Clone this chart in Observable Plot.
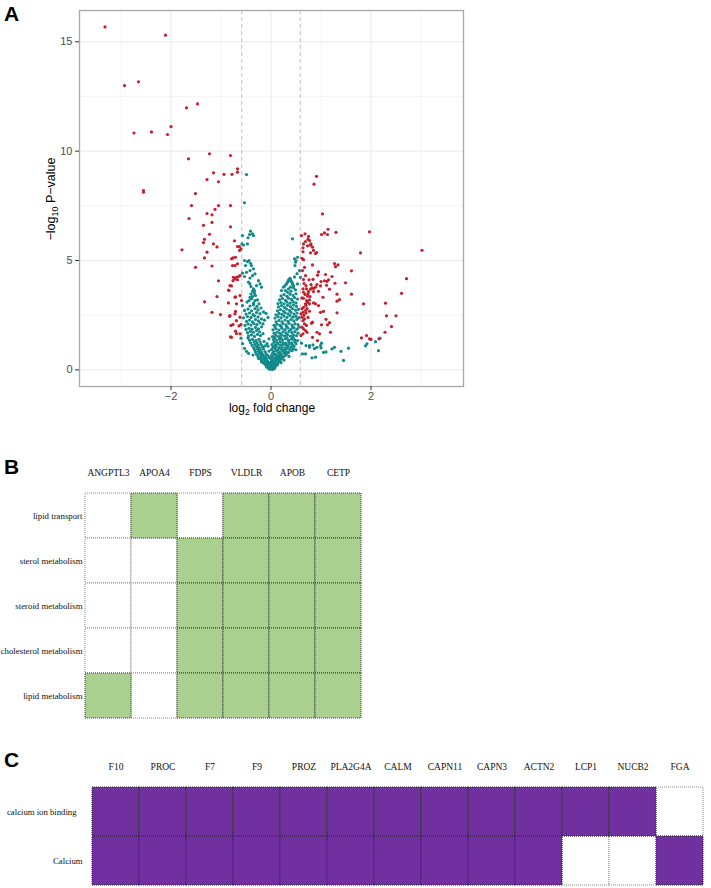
<!DOCTYPE html>
<html>
<head>
<meta charset="utf-8">
<script src="https://cdn.jsdelivr.net/npm/d3@7"></script>
<script src="https://cdn.jsdelivr.net/npm/@observablehq/plot@0.6"></script>
<style>
  html, body { margin: 0; padding: 0; background: #fff; }
  #wrap { position: relative; width: 711px; height: 888px; background: #fff; overflow: hidden; }
  .panel { position: absolute; left: 0; }
  .tag { position: absolute; left: 4px; font: bold 21px "Liberation Sans", Arial, sans-serif; color: #000; line-height: 1; }
  .atitle { position: absolute; font-family: "Liberation Sans", Arial, sans-serif; color: #000; white-space: nowrap; line-height: 14px; }
  .sb { font-size: 0.72em; position: relative; top: 0.35em; }
</style>
</head>
<body>
<div id="wrap">
  <div class="panel" id="pA" style="top:0"></div>
  <div class="panel" id="pB" style="top:440px"></div>
  <div class="panel" id="pC" style="top:740px"></div>
  <div class="tag" style="top:3px">A</div>
  <div class="tag" style="top:456px">B</div>
  <div class="tag" style="top:749px">C</div>
  <div class="atitle" style="left:51px; top:199px; font-size:12.5px; transform:translate(-50%,-50%) rotate(-90deg);">−log<span class="sb">10</span> P−value</div>
  <div class="atitle" style="left:272px; top:401px; font-size:12px; transform:translateX(-50%);">log<span class="sb">2</span> fold change</div>
</div>
<script>
// ---------------- Panel A data (log2 fold change, -log10 P-value) ----------------
const fcCutoff = [-0.585, 0.585];
const xMajorTicks = [-2, 0, 2];
const xMinorTicks = [-3, -1, 1, 3];
const yMajorTicks = [0, 5, 10, 15];
const yMinorTicks = [2.5, 7.5, 12.5];

const downRegulated = [
  [-3.32,15.68],[-2.11,15.30],[-2.93,13.0],[-2.65,13.17],[-1.69,11.98],[-1.47,12.16],[-2.0,11.12],[-2.74,10.83],
  [-2.39,10.88],[-2.07,10.76],[-1.65,9.65],[-1.23,9.88],[-0.81,9.80],[-1.15,9.01],[-1.28,8.70],[-1.05,8.60],
  [-0.94,8.94],[-0.78,8.94],[-0.67,9.19],[-0.67,9.04],[-2.55,8.20],[-2.55,8.12],[-1.51,8.06],
  [-1.59,7.51],[-1.05,7.51],[-0.81,7.51],[-1.12,7.34],[-1.28,7.15],[-1.18,7.09],[-1.64,6.92],[-1.18,6.74],
  [-1.35,6.61],[-0.81,6.54],[-1.23,6.20],[-1.33,5.97],[-1.35,5.82],[-0.73,5.90],[-1.15,5.76],[-1.08,5.62],
  [-0.67,5.64],[-0.63,5.64],[-0.60,5.53],[-1.78,5.49],[-1.28,5.38],[-0.63,5.46],[-1.33,5.12],[-0.71,5.15],
  [-0.79,5.08],[-0.76,5.12],[-0.77,4.77],[-0.72,4.77],[-0.67,4.85],[-1.51,4.69],[-1.18,4.75],[-0.69,4.23],
  [-0.67,4.12],[-1.05,4.07],[-0.76,4.08],[-0.75,4.23],[-0.72,4.16],[-0.65,4.27],[-0.62,4.31],[-0.79,3.84],
  [-0.82,3.85],[-0.84,3.63],[-0.85,3.65],[-1.08,3.35],[-0.71,3.34],[-0.72,3.32],[-0.62,3.40],[-0.59,3.17],
  [-1.33,3.11],[-0.85,3.06],[-0.69,3.02],[-1.18,2.63],[-1.01,2.53],[-0.83,2.45],[-0.71,2.67],[-0.82,2.48],
  [-0.72,2.56],[-0.62,2.41],[-0.69,2.25],[-0.60,2.07],[-0.80,2.03],[-0.76,2.07],[-0.64,2.01],[-0.69,1.66],
  [-0.81,1.51],[-0.71,1.77],[-0.79,1.49],[-0.62,1.65]
];

const upRegulated = [
  [0.91,8.85],[0.86,8.49],[1.03,7.13],[1.14,6.43],[1.07,6.26],[1.01,6.19],[1.13,6.19],[1.30,6.29],[1.97,6.31],
  [3.02,5.47],[0.74,5.97],[0.69,5.87],[0.65,5.76],[0.73,5.67],[0.79,5.70],[0.83,5.61],[0.64,5.58],[0.64,5.40],
  [0.79,5.35],[0.89,5.32],[0.91,5.36],[1.79,5.35],[0.62,5.10],[0.65,5.04],[0.83,4.80],[1.27,4.86],[1.34,4.80],
  [1.29,4.72],[0.67,4.69],[0.63,4.54],[1.61,4.53],[0.95,4.48],[0.93,4.33],[0.69,4.31],[1.09,4.36],[1.22,4.27],
  [0.65,4.13],[0.76,4.12],[0.84,4.14],[1.0,4.04],[1.07,4.07],[1.12,4.05],[1.15,4.12],[1.28,3.96],[1.49,3.98],
  [2.71,4.17],[0.92,3.90],[0.99,3.84],[1.11,3.87],[0.89,3.78],[0.82,3.75],[0.85,3.72],[0.79,3.69],[0.71,3.70],
  [0.64,3.70],[1.17,3.69],[0.85,3.58],[0.75,3.58],[0.65,3.55],[0.95,3.59],[1.32,3.46],[1.61,3.46],[2.61,3.50],
  [1.04,3.32],[0.73,3.37],[0.77,3.20],[0.71,3.17],[0.65,3.27],[0.62,3.29],[1.37,3.21],[1.32,3.14],[0.73,3.09],
  [0.69,3.02],[0.77,3.02],[0.65,2.86],[0.72,2.80],[0.69,2.71],[0.85,3.06],[0.89,3.02],[0.95,2.94],[1.85,3.02],
  [2.29,3.05],[0.62,2.79],[0.64,2.63],[0.60,2.56],[0.77,2.68],[0.99,2.63],[1.05,2.67],[1.32,2.61],[2.31,2.47],
  [2.50,2.47],[0.62,2.41],[0.67,2.33],[0.64,2.25],[1.10,2.31],[0.83,2.18],[0.81,2.13],[1.17,2.16],[1.13,2.06],
  [1.01,2.06],[0.67,2.10],[0.71,2.03],[0.62,1.95],[0.65,1.87],[2.41,1.98],[0.69,1.80],[0.72,1.72],[0.64,1.65],
  [0.60,1.57],[0.92,1.72],[0.97,1.65],[1.19,1.72],[2.28,1.72],[0.83,1.49],[1.81,1.46],[1.91,1.57],[1.97,1.42],
  [2.0,1.39],[2.16,1.42],[0.93,1.34],[0.61,6.14],[0.68,6.22],[0.75,6.10],[0.77,5.91],[0.80,5.76],[0.85,5.46],
  [0.66,3.95],[0.70,3.85],[0.68,3.45],[0.74,3.48],[0.70,2.95],[0.66,2.50],[0.74,2.40],[0.70,2.60],[0.78,3.35],[0.80,3.90]
];

const notSignificant = [
  [-0.02,0.03],[0.01,0.05],[0.03,0.02],[-0.05,0.08],[0.05,0.1],[-0.08,0.12],[0.08,0.14],[0.0,0.12],[-0.03,0.16],
  [0.03,0.18],[-0.1,0.2],[0.1,0.22],[-0.06,0.22],[0.06,0.25],[0.0,0.24],[-0.12,0.27],[0.12,0.29],[-0.04,0.28],
  [0.02,0.3],[0.07,0.06],[-0.07,0.17],[0.09,0.18],[-0.01,0.2],[0.04,0.27],[-0.09,0.29],[0.13,0.24],[0.01,0.09],
  [-0.04,0.05],[0.06,0.2],[-0.02,0.26],
  [-0.15,0.32],[-0.1,0.35],[-0.05,0.33],[0.0,0.36],[0.05,0.34],[0.1,0.32],[0.15,0.35],[-0.18,0.4],[-0.12,0.42],
  [-0.07,0.4],[0.02,0.42],[0.08,0.41],[0.13,0.44],[0.18,0.4],[-0.2,0.47],[-0.14,0.5],[-0.09,0.48],[0.0,0.5],
  [0.06,0.49],[0.11,0.52],[0.16,0.48],[0.21,0.5],[-0.22,0.55],[-0.16,0.57],[-0.04,0.56],[0.03,0.58],[0.09,0.55],
  [0.14,0.59],[0.19,0.56],[0.24,0.58],[-0.11,0.58],[0.26,0.45],[-0.25,0.52],[0.2,0.33],[-0.19,0.36],
  [-0.26,0.62],[-0.2,0.65],[-0.14,0.63],[-0.07,0.66],[0.0,0.64],[0.06,0.68],[0.12,0.63],[0.17,0.66],[0.22,0.62],
  [0.28,0.65],[-0.29,0.72],[-0.23,0.75],[-0.17,0.71],[-0.1,0.74],[0.03,0.76],[0.09,0.72],[0.15,0.77],[0.2,0.73],
  [0.26,0.76],[0.31,0.71],[-0.31,0.82],[-0.25,0.85],[-0.19,0.8],[-0.12,0.84],[-0.04,0.86],[0.05,0.83],[0.11,0.87],
  [0.18,0.82],[0.24,0.86],[0.3,0.83],[0.35,0.8],[-0.33,0.92],[-0.27,0.95],[-0.21,0.91],[-0.15,0.96],[0.01,0.93],
  [0.08,0.97],[0.14,0.92],[0.21,0.95],[0.27,0.92],[0.33,0.97],[0.38,0.91],[0.42,0.88],[0.45,0.96],[0.5,0.92],
  [-0.36,0.68],[0.36,0.62],
  [-0.35,1.02],[-0.29,1.05],[-0.23,1.01],[-0.17,1.06],[0.04,1.03],[0.1,1.07],[0.16,1.02],[0.22,1.05],[0.28,1.01],
  [0.34,1.06],[0.4,1.03],[0.46,1.08],[-0.38,1.13],[-0.32,1.16],[-0.26,1.12],[-0.2,1.17],[0.02,1.15],[0.08,1.12],
  [0.13,1.18],[0.19,1.14],[0.25,1.17],[0.31,1.13],[0.37,1.18],[0.43,1.14],[0.5,1.19],[-0.41,1.24],[-0.34,1.27],
  [-0.28,1.23],[-0.22,1.28],[0.06,1.26],[0.12,1.23],[0.18,1.28],[0.24,1.25],[0.3,1.22],[0.36,1.27],[0.42,1.24],
  [0.48,1.29],[-0.43,1.36],[-0.37,1.39],[-0.3,1.35],[-0.24,1.4],[0.05,1.38],[0.11,1.35],[0.17,1.41],[0.23,1.37],
  [0.29,1.42],[0.35,1.36],[0.41,1.4],[0.47,1.38],[0.53,1.34],[-0.46,1.46],[0.08,1.47],[0.2,1.48],[0.32,1.47],
  [0.44,1.49],[-0.12,1.1],[-0.14,1.3],[-0.08,1.2],[-0.04,1.42],[-0.06,1.08],
  [-0.45,1.55],[-0.39,1.6],[-0.33,1.53],[-0.27,1.62],[-0.21,1.57],[-0.16,1.66],[-0.47,1.7],[-0.41,1.76],[-0.35,1.72],
  [-0.29,1.8],[-0.23,1.74],[-0.5,1.85],[-0.44,1.9],[-0.38,1.86],[-0.31,1.94],[-0.25,1.88],[-0.19,1.97],
  [0.03,1.52],[0.09,1.58],[0.15,1.53],[0.21,1.6],[0.27,1.55],[0.33,1.61],[0.39,1.54],[0.45,1.59],[0.51,1.56],
  [0.06,1.68],[0.12,1.72],[0.18,1.67],[0.24,1.74],[0.3,1.69],[0.36,1.76],[0.42,1.7],[0.48,1.75],[0.54,1.68],
  [0.04,1.83],[0.1,1.88],[0.16,1.82],[0.22,1.9],[0.28,1.84],[0.34,1.91],[0.4,1.85],[0.46,1.92],[0.52,1.86],
  [0.08,1.97],[0.2,1.99],[0.31,1.98],[0.43,1.97],[0.56,1.95],
  [-0.52,2.03],[-0.46,2.1],[-0.4,2.05],[-0.34,2.12],[-0.28,2.07],[-0.22,2.15],[-0.16,2.1],[-0.49,2.22],[-0.43,2.28],
  [-0.37,2.2],[-0.31,2.3],[-0.25,2.24],[-0.19,2.33],[-0.13,2.27],[-0.55,2.38],[-0.47,2.44],[-0.4,2.4],[-0.33,2.47],
  [-0.26,2.42],[-0.06,2.4],
  [0.06,2.04],[0.12,2.09],[0.18,2.03],[0.24,2.11],[0.3,2.06],[0.36,2.13],[0.42,2.05],[0.48,2.1],[0.54,2.07],
  [0.1,2.2],[0.16,2.26],[0.22,2.19],[0.28,2.28],[0.34,2.22],[0.4,2.3],[0.46,2.24],[0.52,2.31],[0.08,2.37],
  [0.14,2.43],[0.2,2.38],[0.26,2.46],[0.32,2.4],[0.38,2.48],[0.44,2.41],[0.5,2.45],[0.56,2.39],
  [-0.5,2.55],[-0.43,2.6],[-0.36,2.53],[-0.29,2.62],[-0.22,2.57],[-0.15,2.65],[-0.1,2.58],[-0.53,2.72],[-0.46,2.78],
  [-0.39,2.7],[-0.32,2.8],[-0.26,2.74],[-0.2,2.83],[-0.42,2.92],[-0.35,2.97],[-0.28,2.9],[-0.57,2.94],
  [0.1,2.52],[0.16,2.58],[0.22,2.54],[0.28,2.61],[0.34,2.56],[0.4,2.63],[0.46,2.55],[0.52,2.6],[0.13,2.7],
  [0.19,2.76],[0.25,2.69],[0.31,2.78],[0.37,2.72],[0.43,2.8],[0.49,2.73],[0.55,2.77],[0.15,2.88],[0.21,2.94],
  [0.27,2.86],[0.33,2.95],[0.39,2.89],[0.45,2.97],[0.51,2.9],
  [-0.44,3.17],[-0.39,3.25],[-0.42,3.32],[-0.32,3.17],[-0.35,3.05],[-0.27,3.2],[-0.24,3.02],[-0.31,3.4],[-0.33,3.5],
  [-0.4,3.47],[-0.48,3.1],[-0.37,3.36],
  [0.14,3.03],[0.2,3.08],[0.26,3.02],[0.32,3.1],[0.38,3.05],[0.44,3.12],[0.5,3.06],[0.17,3.2],[0.23,3.26],
  [0.29,3.18],[0.35,3.28],[0.41,3.22],[0.47,3.3],[0.53,3.24],[0.2,3.38],[0.26,3.44],[0.32,3.36],[0.38,3.46],
  [0.44,3.4],[0.5,3.48],
  [-0.35,3.70],[-0.37,3.59],[-0.4,3.81],[-0.42,3.93],[-0.45,4.01],[-0.29,3.85],[-0.22,3.93],[-0.19,3.78],[-0.33,3.62],
  [0.21,3.63],[0.29,3.63],[0.25,3.78],[0.39,3.78],[0.45,3.85],[0.53,3.93],[0.31,3.93],[0.28,3.85],[0.35,3.70],
  [0.45,3.75],[0.4,3.6],[0.49,3.66],[0.33,3.55],[0.43,3.92],
  [-0.25,4.08],[-0.53,4.27],[-0.37,4.31],[-0.32,4.39],[-0.49,4.46],[-0.57,4.42],[-0.42,4.2],
  [0.35,4.08],[0.39,4.12],[0.42,4.01],[0.36,4.14],[0.40,4.06],[0.33,4.01],[0.38,4.18],[0.47,4.25],[0.52,4.4],
  [-0.53,5.0],[-0.47,4.95],[-0.44,5.0],[-0.41,4.87],[-0.51,4.77],[-0.39,4.77],[-0.35,4.62],[-0.42,4.54],
  [0.47,5.08],[0.49,4.92],[0.48,4.77],[0.53,5.15],[0.50,5.0],[0.57,4.54],
  [-0.47,5.76],[-0.55,5.71],[-0.57,6.14],[-0.41,6.34],[-0.37,6.22],[-0.43,6.19],[-0.35,6.14],[-0.58,5.76],[-0.46,6.04],
  [0.43,5.99],[-0.53,7.64],[-0.49,8.93],
  [0.61,1.22],[0.70,1.11],[0.77,1.11],[0.84,1.14],[0.77,1.03],[0.87,0.97],[0.92,1.03],[0.99,1.11],[1.01,1.22],
  [1.0,1.01],[0.63,0.73],[0.69,0.73],[0.82,0.55],[0.89,0.58],[1.05,0.80],[1.10,0.82],[1.22,0.96],[1.27,1.03],
  [1.40,0.85],[1.55,0.99],[1.45,0.43],[1.89,1.10],[1.92,1.19],[2.09,1.29],[2.15,0.88],[2.18,1.45],[0.59,4.23],
  [-0.57,1.2],[-0.53,0.98],[-0.49,0.85],[-0.6,1.45],[-0.45,0.75]
];

// ---------------- Panel B data ----------------
const lipidGenes = ["ANGPTL3", "APOA4", "FDPS", "VLDLR", "APOB", "CETP"];
const lipidTerms = ["lipid transport", "sterol metabolism", "steroid metabolism", "cholesterol metabolism", "lipid metabolism"];
const lipidMembership = [
  [0, 1, 0, 1, 1, 1],
  [0, 0, 1, 1, 1, 1],
  [0, 0, 1, 1, 1, 1],
  [0, 0, 1, 1, 1, 1],
  [1, 0, 1, 1, 1, 1]
];

// ---------------- Panel C data ----------------
const calciumGenes = ["F10", "PROC", "F7", "F9", "PROZ", "PLA2G4A", "CALM", "CAPN11", "CAPN3", "ACTN2", "LCP1", "NUCB2", "FGA"];
const calciumTerms = ["calcium ion binding", "Calcium"];
const calciumMembership = [
  [1, 1, 1, 1, 1, 1, 1, 1, 1, 1, 1, 1, 0],
  [1, 1, 1, 1, 1, 1, 1, 1, 1, 1, 0, 0, 1]
];

// ---------------- Build Panel A ----------------
const toObj = (arr) => arr.map(([fc, p]) => ({fc, p}));
const nsData = toObj(notSignificant);
const sigData = toObj(downRegulated.concat(upRegulated));

const plotA = Plot.plot({
  width: 470,
  height: 420,
  marginLeft: 79,
  marginRight: 7,
  marginTop: 10,
  marginBottom: 34,
  x: {domain: [-3.83, 3.85], label: null},
  y: {domain: [-0.76, 16.43], label: null},
  style: {fontFamily: "'Liberation Sans', Arial, sans-serif", fontSize: "11px", color: "#4d4d4d", background: "#fff"},
  marks: [
    Plot.gridX(xMinorTicks, {stroke: "#f2f2f2", strokeOpacity: 1, strokeWidth: 0.8}),
    Plot.gridY(yMinorTicks, {stroke: "#f2f2f2", strokeOpacity: 1, strokeWidth: 0.8}),
    Plot.gridX(xMajorTicks, {stroke: "#e8e8e8", strokeOpacity: 1, strokeWidth: 1}),
    Plot.gridY(yMajorTicks, {stroke: "#e8e8e8", strokeOpacity: 1, strokeWidth: 1}),
    Plot.ruleX(fcCutoff, {stroke: "#bfbfbf", strokeWidth: 1, strokeDasharray: "4,3"}),
    Plot.dot(nsData, {x: "fc", y: "p", r: 1.6, fill: "#108a8a", stroke: "none"}),
    Plot.dot(sigData, {x: "fc", y: "p", r: 1.6, fill: "#c4202c", stroke: "none"}),
    Plot.frame({stroke: "#a8a8a8", strokeWidth: 1.3}),
    Plot.axisX({ticks: xMajorTicks, tickSize: 4, tickPadding: 2, stroke: "#333", label: null}),
    Plot.axisY({ticks: yMajorTicks, tickSize: 4, tickPadding: 3, stroke: "#333", label: null})
  ]
});
document.getElementById("pA").appendChild(plotA);

// ---------------- Build Panel B ----------------
const lipidCells = [];
lipidTerms.forEach((t, i) => lipidGenes.forEach((g, j) => lipidCells.push({term: t, gene: g, on: lipidMembership[i][j]})));

const plotB = Plot.plot({
  width: 380,
  height: 290,
  marginLeft: 83,
  marginRight: 17,
  marginTop: 52,
  marginBottom: 12,
  x: {domain: lipidGenes, padding: 0, label: null},
  y: {domain: lipidTerms, padding: 0, label: null},
  style: {fontFamily: "'Liberation Serif', 'Times New Roman', serif", fontSize: "9.5px", color: "#111", background: "#fff"},
  marks: [
    Plot.cell(lipidCells.filter(d => !d.on), {x: "gene", y: "term", fill: "#fff", stroke: "#8a8a8a", strokeWidth: 1, strokeDasharray: "1,1"}),
    Plot.cell(lipidCells.filter(d => d.on), {x: "gene", y: "term", fill: "#a9d08e", stroke: "#3a3a3a", strokeWidth: 1, strokeDasharray: "1,1"}),
    Plot.axisX({anchor: "top", tickSize: 0, tickPadding: 17, label: null, fontSize: 9.5}),
    Plot.axisY({anchor: "left", tickSize: 0, tickPadding: 1, label: null, fontSize: 8.8})
  ]
});
document.getElementById("pB").appendChild(plotB);

// ---------------- Build Panel C ----------------
const calciumCells = [];
calciumTerms.forEach((t, i) => calciumGenes.forEach((g, j) => calciumCells.push({term: t, gene: g, on: calciumMembership[i][j]})));

const plotC = Plot.plot({
  width: 711,
  height: 148,
  marginLeft: 86,
  marginRight: 3,
  marginTop: 47,
  marginBottom: 3,
  x: {domain: calciumGenes, padding: 0, label: null},
  y: {domain: calciumTerms, padding: 0, label: null},
  style: {fontFamily: "'Liberation Serif', 'Times New Roman', serif", fontSize: "9.5px", color: "#111", background: "#fff"},
  marks: [
    Plot.cell(calciumCells.filter(d => !d.on), {x: "gene", y: "term", fill: "#fff", stroke: "#8a8a8a", strokeWidth: 1, strokeDasharray: "1,1"}),
    Plot.cell(calciumCells.filter(d => d.on), {x: "gene", y: "term", fill: "#7030a0", stroke: "#2a2a2a", strokeWidth: 1, strokeDasharray: "1,1"}),
    Plot.axisX({anchor: "top", tickSize: 0, tickPadding: 18, label: null, fontSize: 9.5}),
    Plot.axisY([calciumTerms[0]], {anchor: "left", tickSize: 0, tickPadding: 10, label: null, fontSize: 8.7}),
    Plot.axisY([calciumTerms[1]], {anchor: "left", tickSize: 0, tickPadding: 4, label: null, fontSize: 8.7})
  ]
});
document.getElementById("pC").appendChild(plotC);
</script>
</body>
</html>
